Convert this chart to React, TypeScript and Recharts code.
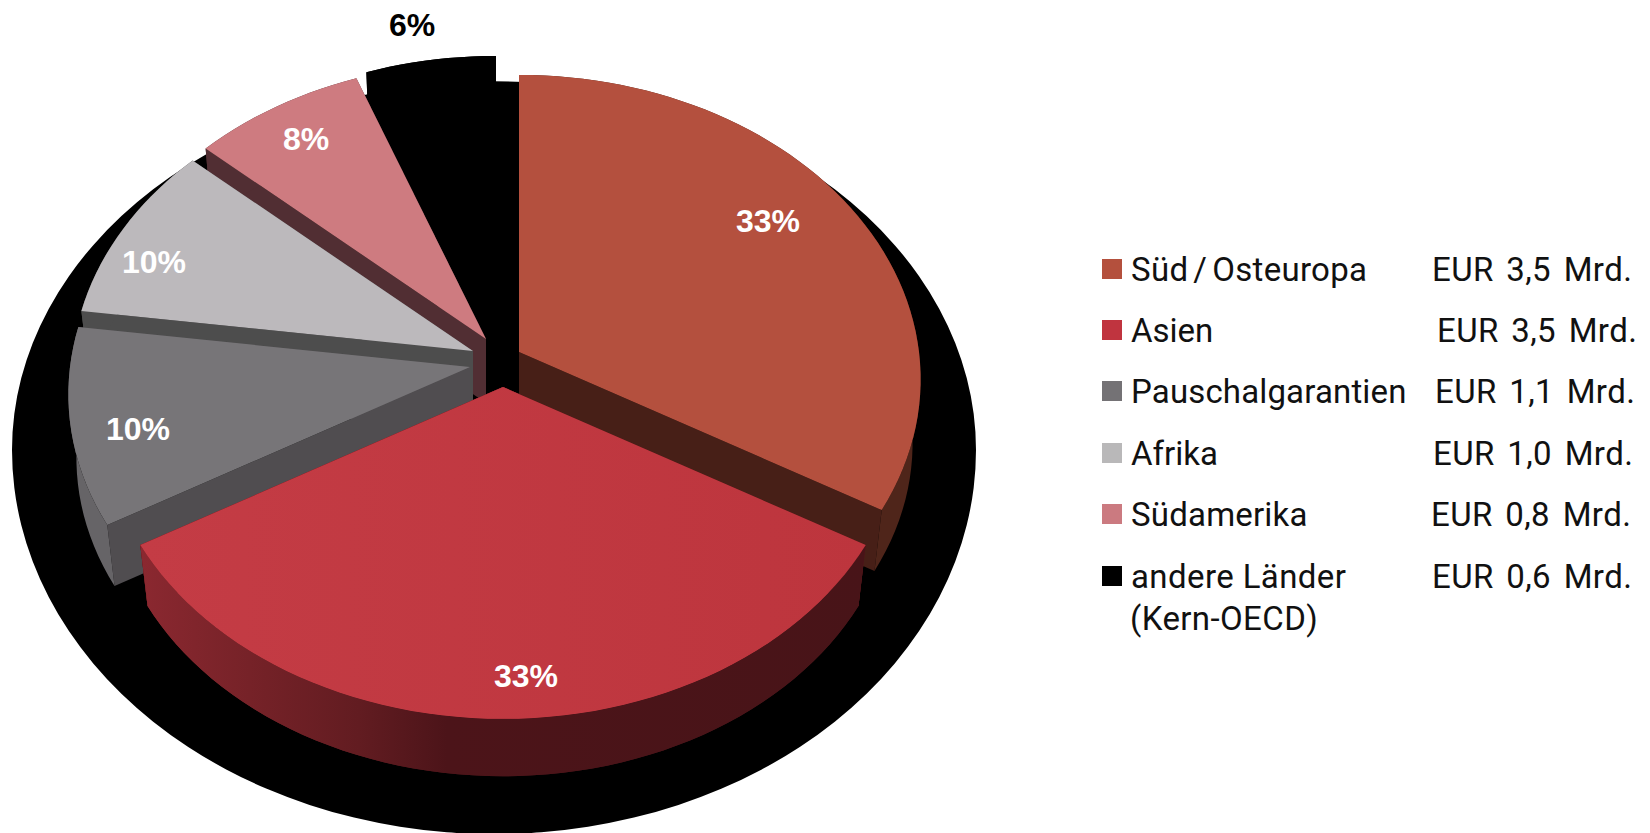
import React from 'react';
import { PieChart, Pie, Legend } from 'recharts';

const categories = ['Süd/Osteuropa', 'Asien', 'Pauschalgarantien', 'Afrika', 'Südamerika', 'andere Länder'];
const values = [3.5, 3.5, 1.1, 1.0, 0.8, 0.6];
const amountLabels = ['EUR 3,5 Mrd.', 'EUR 3,5 Mrd.', 'EUR 1,1 Mrd.', 'EUR 1,0 Mrd.', 'EUR 0,8 Mrd.', 'EUR 0,6 Mrd.'];
const legendColors = ['#B4503D', '#C0343F', '#747275', '#B9B8B9', '#CB7A80', '#000000'];

const topColors = ['#B4503E', 'url(#redTop)', '#777578', '#BCB9BC', '#CE7B80', '#000000'];
const flatWallColors = ['#471F17', '#5A1418', '#504D50', '#4D4D4D', '#512E33', '#000000'];
const arcWallColors = ['#4F251A', 'url(#redWall)', '#666467', '#4D4D4D', '#512E33', '#000000'];
const explodeX = [24, 8, -25, -22, -9, 1];
const explodeY = [0, 35, 15, -1, -13, -19];
const labelDx = [249, 23, -332, -319, -180, -84];
const labelDy = [-131, 289, 62, -89, -200, -308];
const amountX = [1432, 1437, 1435, 1433, 1431, 1432];
const rowY = [269, 330, 391, 453, 514, 576];
const nameSpacing = [0.3, 0, 0.15, 0, 0.2, 0.4];

const data = categories.map((name, i) => ({ name, value: values[i], idx: i })).reverse();
const shadowData = [{ name: 'shadow', value: values.reduce((a, b) => a + b, 0) }];

const FLAT = 0.755;
const PERSP = 0.09;
const DEPTH = 64;
const BOTTOM_SCALE = 0.98;
const SHADOW_UPPER = 0.765;
const SHADOW_LOWER = 0.797;

function project(angle: number, rx: number) {
  const t = ((90 - angle) * Math.PI) / 180;
  const u = Math.sin(t);
  const v = -Math.cos(t);
  const d = 1 - PERSP * v;
  return { x: (rx * u) / d, y: (rx * FLAT * v) / d };
}

function arcPoints(a0: number, a1: number, rx: number) {
  const n = Math.max(2, Math.ceil(Math.abs(a1 - a0) / 2));
  const pts = [];
  for (let i = 0; i <= n; i++) pts.push(project(a0 + ((a1 - a0) * i) / n, rx));
  return pts;
}

const toPath = (pts: { x: number; y: number }[]) =>
  pts.map((p, i) => `${i ? 'L' : 'M'}${p.x.toFixed(2)},${p.y.toFixed(2)}`).join(' ') + ' Z';

function Slice(props: any) {
  const { cx, cy, outerRadius, startAngle, endAngle, payload } = props;
  const i = payload.idx;
  const ax = cx + explodeX[i];
  const ay = cy + explodeY[i];
  const raw = arcPoints(startAngle, endAngle, outerRadius);
  const arc = raw.map((p) => ({ x: ax + p.x, y: ay + p.y }));
  const low = raw.map((p) => ({ x: ax + p.x * BOTTOM_SCALE, y: ay + DEPTH + p.y * BOTTOM_SCALE }));
  const apex = { x: ax, y: ay };
  const apexLow = { x: ax, y: ay + DEPTH };
  const last = arc.length - 1;
  return (
    <g>
      <path d={toPath([apex, arc[0], low[0], apexLow])} fill={flatWallColors[i]} />
      <path d={toPath([apex, arc[last], low[last], apexLow])} fill={flatWallColors[i]} />
      <path d={toPath([...arc, ...[...low].reverse()])} fill={arcWallColors[i]} />
      <path d={toPath([apex, ...arc])} fill={topColors[i]} />
    </g>
  );
}

const MainShape = (props: any) => <Slice {...props} />;
const FrontShape = (props: any) => (props.payload.idx === 1 ? <Slice {...props} /> : <g />);

function ShadowShape(props: any) {
  const { cx, cy, outerRadius: r } = props;
  const up = r * SHADOW_UPPER;
  const lo = r * SHADOW_LOWER;
  return (
    <path
      d={`M${cx - r},${cy} A${r},${up} 0 0 1 ${cx + r},${cy} A${r},${lo} 0 0 1 ${cx - r},${cy} Z`}
      fill="#000000"
    />
  );
}

function PercentLabel(props: any) {
  const { cx, cy, percent, payload, index } = props;
  const i = payload?.idx ?? data[index].idx;
  return (
    <text
      x={cx + explodeX[i] + labelDx[i]}
      y={cy + explodeY[i] + labelDy[i]}
      fill={i === 5 ? '#000000' : '#FFFFFF'}
      textAnchor="middle"
      dominantBaseline="central"
      fontFamily="'Liberation Sans', Arial, sans-serif"
      fontWeight={700}
      fontSize={32}
    >
      {`${Math.round(percent * 100)}%`}
    </text>
  );
}

const legendFont: React.CSSProperties = {
  position: 'absolute',
  fontFamily: 'Roboto, sans-serif',
  fontSize: 33,
  lineHeight: '40px',
  color: '#111111',
  whiteSpace: 'nowrap',
  fontWeight: 400,
};

function LegendName({ text }: { text: string }) {
  const parts = text.split('/');
  if (parts.length === 1) return <>{text}</>;
  return (
    <>
      {parts[0]}
      <span style={{ margin: '0 5px' }}>/</span>
      {parts[1]}
    </>
  );
}

function LegendRows() {
  return (
    <div style={{ position: 'relative', width: 1650, height: 833 }}>
      {categories.map((c, i) => (
        <React.Fragment key={c}>
          <div
            style={{
              position: 'absolute',
              left: 1102,
              top: rowY[i] - 10,
              width: 20,
              height: 20,
              background: legendColors[i],
            }}
          />
          <div style={{ ...legendFont, left: 1131, top: rowY[i] - 19, letterSpacing: nameSpacing[i] }}>
            <LegendName text={c} />
          </div>
          <div
            style={{
              ...legendFont,
              left: amountX[i],
              top: rowY[i] - 19,
              letterSpacing: 0.4,
              wordSpacing: 4,
            }}
          >
            {amountLabels[i]}
          </div>
        </React.Fragment>
      ))}
      <div style={{ ...legendFont, left: 1130, top: 599, letterSpacing: 0.4 }}>(Kern-OECD)</div>
    </div>
  );
}

export default function App() {
  return (
    <div style={{ position: 'absolute', left: 0, top: 0, width: 1650, height: 833, overflow: 'hidden', background: '#fff' }}>
      <PieChart width={1650} height={833} margin={{ top: 0, right: 0, bottom: 0, left: 0 }}>
        <defs>
          <linearGradient id="redWall" gradientUnits="userSpaceOnUse" x1="140" y1="0" x2="870" y2="0">
            <stop offset="0" stopColor="#8B2830" />
            <stop offset="0.15" stopColor="#762228" />
            <stop offset="0.3" stopColor="#621C21" />
            <stop offset="0.42" stopColor="#4C1419" />
            <stop offset="1" stopColor="#481418" />
          </linearGradient>
          <linearGradient id="redTop" gradientUnits="userSpaceOnUse" x1="140" y1="0" x2="870" y2="0">
            <stop offset="0" stopColor="#C43C45" />
            <stop offset="1" stopColor="#BD353D" />
          </linearGradient>
        </defs>
        <Pie
          data={shadowData}
          dataKey="value"
          cx={494}
          cy={450}
          outerRadius={482}
          startAngle={90}
          endAngle={450}
          stroke="none"
          isAnimationActive={false}
          shape={ShadowShape}
        />
        <Pie
          data={data}
          dataKey="value"
          cx={495}
          cy={352}
          outerRadius={400}
          startAngle={90}
          endAngle={450}
          stroke="none"
          isAnimationActive={false}
          shape={MainShape}
        />
        <Pie
          data={data}
          dataKey="value"
          cx={495}
          cy={352}
          outerRadius={400}
          startAngle={90}
          endAngle={450}
          stroke="none"
          isAnimationActive={false}
          shape={FrontShape}
          label={PercentLabel}
          labelLine={false}
        />
        <Legend
          content={LegendRows}
          wrapperStyle={{ position: 'absolute', left: 0, top: 0, width: 1650, height: 833, pointerEvents: 'none' }}
        />
      </PieChart>
    </div>
  );
}
